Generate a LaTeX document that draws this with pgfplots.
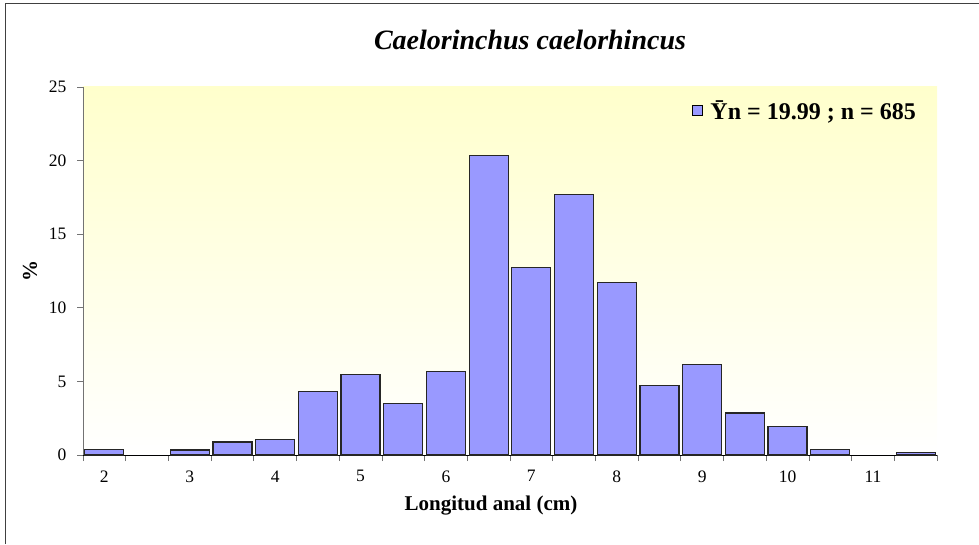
\documentclass[border=0pt]{standalone}
\usepackage{fontspec}
\setmainfont{Liberation Serif}
\usepackage{pgfplots}
\pgfplotsset{compat=1.18}
\definecolor{barblue}{HTML}{9999FF}
\definecolor{bgyellow}{HTML}{FFFFCC}
\begin{document}
\begin{tikzpicture}[x=1pt,y=1pt]
\useasboundingbox (-83,-89) rectangle (896,455);
\draw[black!75, line width=1pt] (-77,-89) -- (-77,451) -- (896,451);
\begin{axis}[
  at={(0pt,0pt)}, anchor=south west,
  scale only axis, width=854pt, height=368pt,
  xmin=-0.5, xmax=19.5, ymin=0, ymax=25,
  axis background/.style={top color=bgyellow, bottom color=white},
  axis x line*=bottom, axis y line*=left,
  x axis line style={black, line width=0.8pt, -},
  y axis line style={black!55, line width=0.8pt, -},
  tick align=outside,
  major tick length=6pt, minor tick length=6pt,
  xtick={0,2,...,18}, xticklabels={2,3,4,5,6,7,8,9,10,11},
  major x tick style={draw=none},
  minor xtick={-0.5,0.5,...,19.5},
  minor x tick style={black!55, line width=0.8pt},
  ytick={0,5,...,25},
  major y tick style={black!55, line width=0.8pt},
  every tick label/.append style={font=\fontsize{17.5}{21}\selectfont},
  x tick label style={yshift=-6pt},
  y tick label style={xshift=-7pt},
  /pgf/number format/assume math mode=true,
  ybar, bar width=39pt,
  title={\bfseries\itshape Caelorinchus caelorhincus},
  title style={font=\fontsize{28}{32}\selectfont, at={(axis description cs:0.5,1)}, anchor=center, yshift=41pt, xshift=20pt},
  xlabel={\bfseries Longitud anal (cm)},
  xlabel style={font=\fontsize{21}{24}\selectfont, at={(axis description cs:0.5,0)}, anchor=center, xshift=-19pt, yshift=-51pt},
  ylabel={\bfseries \%},
  ylabel style={font=\fontsize{21}{24}\selectfont, at={(axis description cs:0,0.5)}, anchor=center, yshift=53pt},
  legend style={at={(1,1)}, anchor=north east, xshift=-16pt, yshift=-9pt, draw=none, fill=none,
    font=\bfseries\fontsize{24}{28}\selectfont},
  legend image code/.code={\draw[fill=barblue, draw=black, line width=0.6pt] (0pt,-5pt) rectangle (10pt,5pt);},
  legend cell align=left,
]
\addplot[fill=barblue, draw=black!85, line width=1.2pt] coordinates {
(0,0.36) (2,0.34) (3,0.88) (4,1.04) (5,4.31) (6,5.46) (7,3.49) (8,5.66)
(9,20.34) (10,12.72) (11,17.69) (12,11.70) (13,4.74) (14,6.14) (15,2.85)
(16,1.95) (17,0.36) (19,0.18)
};
\addlegendentry{\hspace{6pt}Ȳn = 19.99 ; n = 685}
\end{axis}
\end{tikzpicture}
\end{document}
